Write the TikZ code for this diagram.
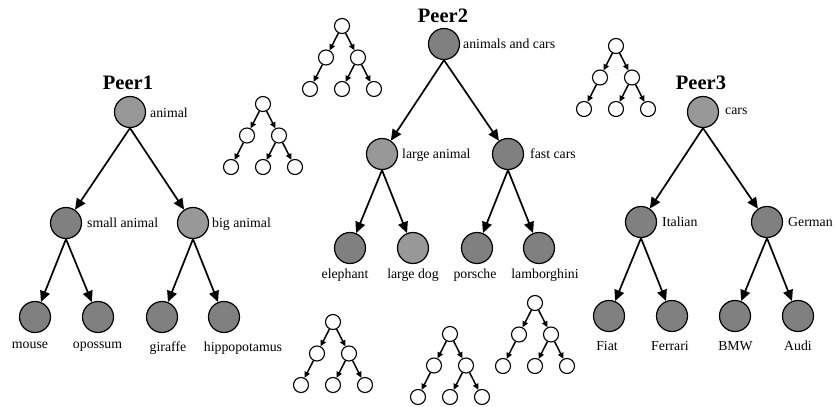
\documentclass[tikz,border=0pt]{standalone}
\usepackage{fontspec}
\setmainfont{Liberation Serif}
\usetikzlibrary{arrows.meta}
\definecolor{darkg}{RGB}{128,128,128}
\definecolor{lightg}{RGB}{152,152,152}
\tikzset{
  bignode/.style={circle,draw=black,line width=1.2pt,minimum size=31pt,inner sep=0pt},
  darkn/.style={bignode,fill=darkg},
  lightn/.style={bignode,fill=lightg},
  smalln/.style={circle,draw=black,line width=1.1pt,fill=white,minimum size=15pt,inner sep=0pt},
  lbl/.style={inner sep=0pt,font=\fontsize{13.8}{16}\selectfont},
  ttl/.style={inner sep=0pt,font=\fontsize{20.5}{24}\selectfont\bfseries,anchor=base},
  bigarr/.style={line width=1.7pt,-{Triangle[length=11pt,width=10pt]}},
  smallarr/.style={line width=1.5pt,-{Triangle[length=6pt,width=5.5pt]}},
}
\newcommand{\minitree}[3]{%
  \node[smalln] (#1r) at (#2,#3) {};
  \node[smalln] (#1a) at (#2-16,#3+31.5) {};
  \node[smalln] (#1b) at (#2+16,#3+31.5) {};
  \node[smalln] (#1c) at (#2-32,#3+63) {};
  \node[smalln] (#1d) at (#2,#3+63) {};
  \node[smalln] (#1e) at (#2+32,#3+63) {};
  \draw[smallarr] (#1r) -- (#1a);
  \draw[smallarr] (#1r) -- (#1b);
  \draw[smallarr] (#1a) -- (#1c);
  \draw[smallarr] (#1b) -- (#1d);
  \draw[smallarr] (#1b) -- (#1e);
}
\begin{document}
\begin{tikzpicture}[x=1pt,y=-1pt]
\useasboundingbox (0,0) rectangle (836,407);
% ---------- Peer1
\node[ttl] (t1) at (128,89) {Peer1};
\node[lightn] (p1r) at (130,112) {};
\node[darkn] (p1a) at (66,223) {};
\node[lightn] (p1b) at (193,223) {};
\node[darkn] (p1c) at (35,317) {};
\node[darkn] (p1d) at (98,317) {};
\node[darkn] (p1e) at (162,317) {};
\node[darkn] (p1f) at (224,317) {};
\draw[bigarr] (p1r.south) -- (p1a);
\draw[bigarr] (p1r.south) -- (p1b);
\draw[bigarr] (p1a.south) -- (p1c);
\draw[bigarr] (p1a.south) -- (p1d);
\draw[bigarr] (p1b.south) -- (p1e);
\draw[bigarr] (p1b.south) -- (p1f);
\node[lbl,anchor=base west] (l1r) at (150,117) {animal};
\node[lbl,anchor=base west] (l1a) at (87,227) {small animal};
\node[lbl,anchor=base west] (l1b) at (212,227) {big animal};
\node[lbl,anchor=base] (l1c) at (30,348) {mouse};
\node[lbl,anchor=base] (l1d) at (97.5,348) {opossum};
\node[lbl,anchor=base] (l1e) at (168,351) {giraffe};
\node[lbl,anchor=base] (l1f) at (243,351) {hippopotamus};
% ---------- Peer2
\node[ttl] (t2) at (443,22) {Peer2};
\node[darkn] (p2r) at (444,44) {};
\node[lightn] (p2a) at (382,154) {};
\node[darkn] (p2b) at (508,154) {};
\node[darkn] (p2c) at (350,248) {};
\node[lightn] (p2d) at (413,248) {};
\node[darkn] (p2e) at (477,248) {};
\node[darkn] (p2f) at (539,248) {};
\draw[bigarr] (p2r.south) -- (p2a);
\draw[bigarr] (p2r.south) -- (p2b);
\draw[bigarr] (p2a.south) -- (p2c);
\draw[bigarr] (p2a.south) -- (p2d);
\draw[bigarr] (p2b.south) -- (p2e);
\draw[bigarr] (p2b.south) -- (p2f);
\node[lbl,anchor=base west] (l2r) at (463,48) {animals and cars};
\node[lbl,anchor=base west] (l2a) at (402,158) {large animal};
\node[lbl,anchor=base west] (l2b) at (530,158) {fast cars};
\node[lbl,anchor=base] (l2c) at (345,278) {elephant};
\node[lbl,anchor=base] (l2d) at (413,278) {large dog};
\node[lbl,anchor=base] (l2e) at (475,278) {porsche};
\node[lbl,anchor=base] (l2f) at (545,278) {lamborghini};
% ---------- Peer3
\node[ttl] (t3) at (701,89) {Peer3};
\node[lightn] (p3r) at (703,112) {};
\node[darkn] (p3a) at (641,222) {};
\node[darkn] (p3b) at (767,222) {};
\node[darkn] (p3c) at (609,316) {};
\node[darkn] (p3d) at (672,316) {};
\node[darkn] (p3e) at (735,316) {};
\node[darkn] (p3f) at (798,316) {};
\draw[bigarr] (p3r.south) -- (p3a);
\draw[bigarr] (p3r.south) -- (p3b);
\draw[bigarr] (p3a.south) -- (p3c);
\draw[bigarr] (p3a.south) -- (p3d);
\draw[bigarr] (p3b.south) -- (p3e);
\draw[bigarr] (p3b.south) -- (p3f);
\node[lbl,anchor=base west] (l3r) at (725,114) {cars};
\node[lbl,anchor=base west] (l3a) at (662,226) {Italian};
\node[lbl,anchor=base west] (l3b) at (788,226) {German};
\node[lbl,anchor=base] (l3c) at (607,350) {Fiat};
\node[lbl,anchor=base] (l3d) at (670,350) {Ferrari};
\node[lbl,anchor=base] (l3e) at (735.5,350) {BMW};
\node[lbl,anchor=base] (l3f) at (798,350) {Audi};
% ---------- small trees
\minitree{ta}{263}{104}
\minitree{tb}{342}{26}
\minitree{tc}{616}{46}
\minitree{td}{333}{322}
\minitree{te}{450}{334}
\minitree{tf}{535}{303}
\end{tikzpicture}
\end{document}
